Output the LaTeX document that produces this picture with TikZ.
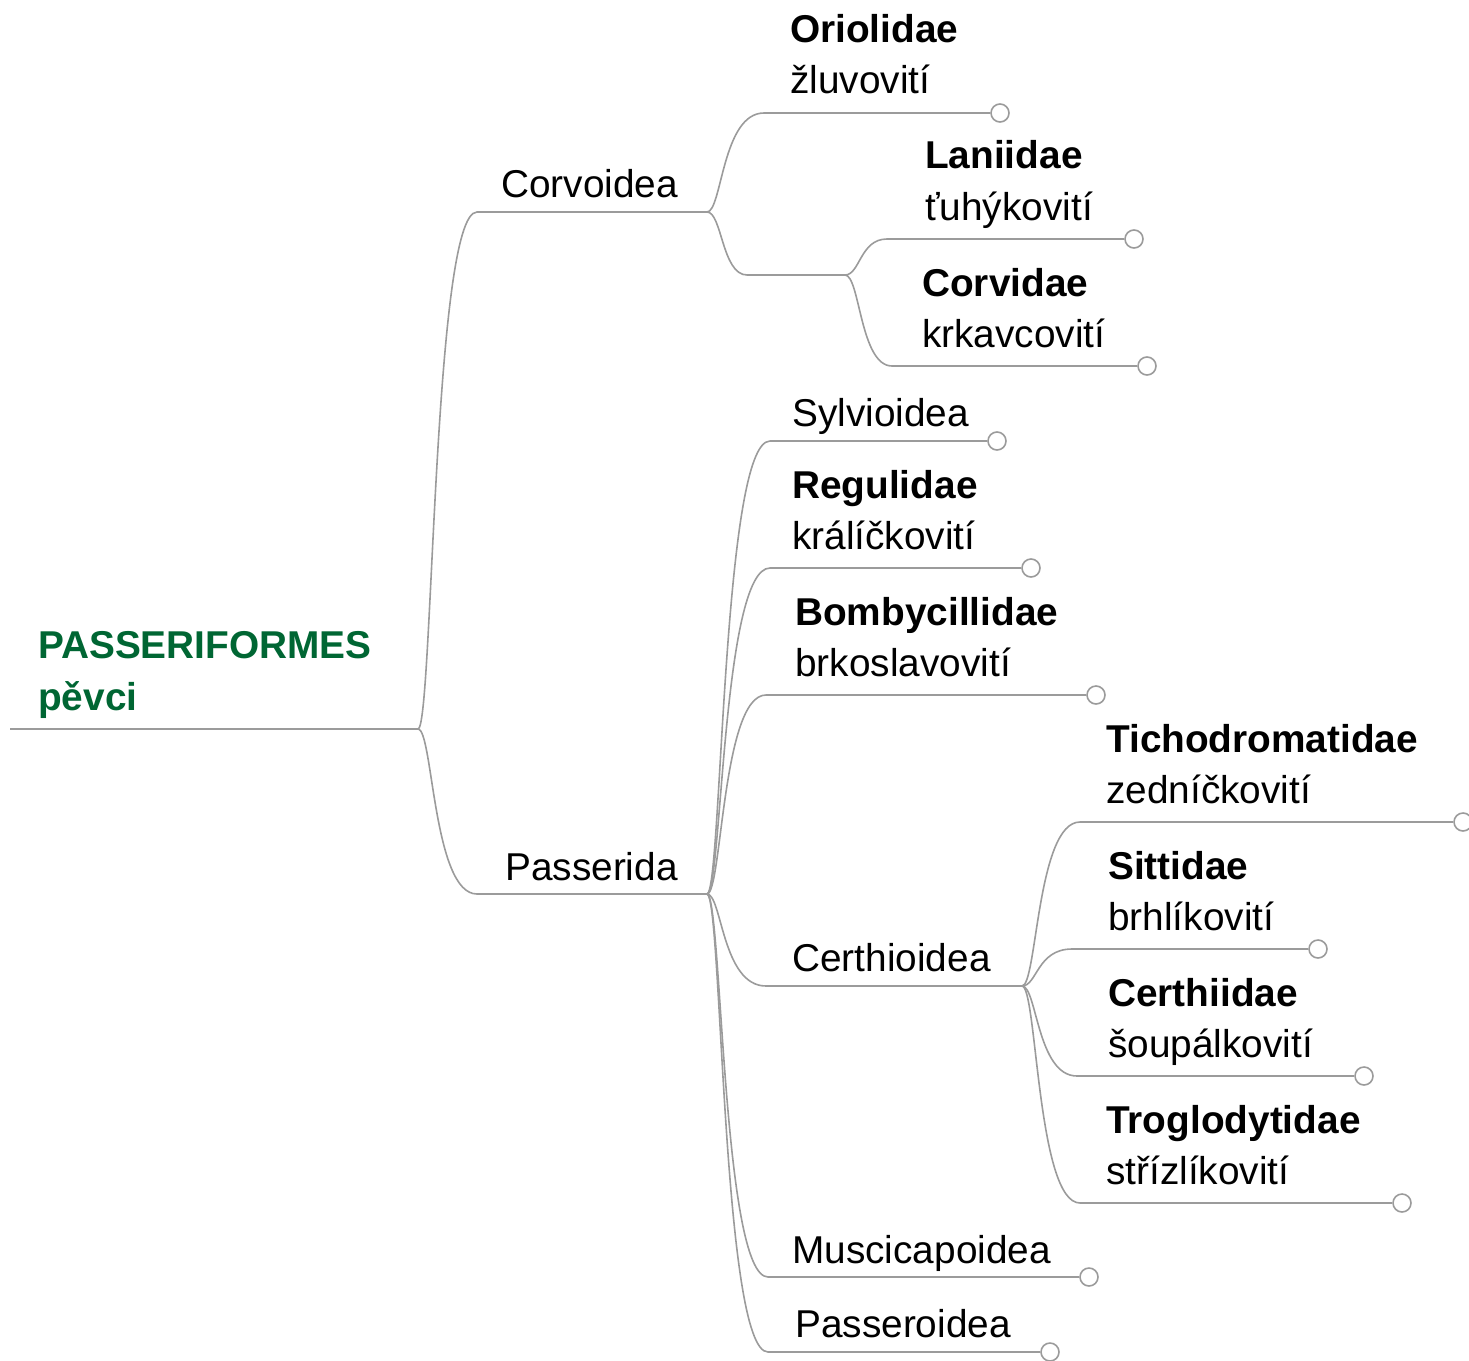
\documentclass[tikz,border=0pt]{standalone}
\usepackage{fontspec}
\setmainfont{Liberation Sans}
\usetikzlibrary{calc}
\definecolor{linegray}{RGB}{155,155,155}
\definecolor{rootgreen}{RGB}{0,102,51}

\tikzset{
	branch/.style={draw=linegray, line width=1.6pt},
	curvy/.style={to path={.. controls +(15,0) and ($(\tikztostart |- \tikztotarget)+(15,0)$) .. (\tikztotarget)}},
	leaf/.style={circle, draw=linegray, fill=white, line width=1.6pt, minimum size=18pt, inner sep=0pt},
	lbl/.style={anchor=base west, inner sep=0pt, font=\fontsize{38.8pt}{52pt}\selectfont},
	famlbl/.style={lbl, font=\fontsize{38.8pt}{52pt}\selectfont\bfseries},
	rootlbl/.style={famlbl, text=rootgreen}
}

\begin{document}
\begin{tikzpicture}[x=1pt,y=-1pt]
				\useasboundingbox (0,0) rectangle (1469,1360);
				
				\node[rootlbl] (passer) at (38,658) {PASSERIFORMES};
				\node[rootlbl] (pevci) at (38,710) {pěvci};
				\coordinate (root-in) at (10,729);
				\coordinate (root) at (418,729);
				\draw[branch] (root-in) -- (root);
				
				\node[lbl] (corv-lbl) at (501,197) {Corvoidea};
				\coordinate (corv-in) at (477,212);
				\coordinate (corv) at (707,212);
				\draw[branch] (root) to[curvy] (corv-in) -- (corv);
				
				\node[lbl] (pass-lbl) at (505,880) {Passerida};
				\coordinate (pass-in) at (477,894);
				\coordinate (pass) at (707,894);
				\draw[branch] (root) to[curvy] (pass-in) -- (pass);
				
				\node[famlbl] (ori) at (790,42) {Oriolidae};
				\node[lbl] (ori-cz) at (790,93) {žluvovití};
				\coordinate (ori-in) at (764,113);
				\node[leaf] (ori-end) at (1000,113) {};
				\draw[branch] (corv) to[curvy] (ori-in) -- (ori-end);
				
				\coordinate (sub-in) at (747,275);
				\coordinate (sub) at (845,275);
				\draw[branch] (corv) to[curvy] (sub-in) -- (sub);
				
				\node[famlbl] (lan) at (925,168) {Laniidae};
				\node[lbl] (lan-cz) at (925,220) {ťuhýkovití};
				\coordinate (lan-in) at (887,239);
				\node[leaf] (lan-end) at (1134,239) {};
				\draw[branch] (sub) to[curvy] (lan-in) -- (lan-end);
				
				\node[famlbl] (cvd) at (922,296) {Corvidae};
				\node[lbl] (cvd-cz) at (922,347) {krkavcovití};
				\coordinate (cvd-in) at (892,366);
				\node[leaf] (cvd-end) at (1147,366) {};
				\draw[branch] (sub) to[curvy] (cvd-in) -- (cvd-end);
				
				\node[lbl] (syl) at (792,426) {Sylvioidea};
				\coordinate (syl-in) at (770,441);
				\node[leaf] (syl-end) at (997,441) {};
				\draw[branch] (pass) to[curvy] (syl-in) -- (syl-end);
				
				\node[famlbl] (reg) at (792,498) {Regulidae};
				\node[lbl] (reg-cz) at (792,549) {králíčkovití};
				\coordinate (reg-in) at (770,568);
				\node[leaf] (reg-end) at (1031,568) {};
				\draw[branch] (pass) to[curvy] (reg-in) -- (reg-end);
				
				\node[famlbl] (bom) at (795,625) {Bombycillidae};
				\node[lbl] (bom-cz) at (795,676) {brkoslavovití};
				\coordinate (bom-in) at (766,695);
				\node[leaf] (bom-end) at (1096,695) {};
				\draw[branch] (pass) to[curvy] (bom-in) -- (bom-end);
				
				\node[lbl] (cer-lbl) at (792,971) {Certhioidea};
				\coordinate (cer-in) at (766,986);
				\coordinate (cer) at (1022,986);
				\draw[branch] (pass) to[curvy] (cer-in) -- (cer);
				
				\node[lbl] (mus) at (792,1263) {Muscicapoidea};
				\coordinate (mus-in) at (768,1277);
				\node[leaf] (mus-end) at (1089,1277) {};
				\draw[branch] (pass) to[curvy] (mus-in) -- (mus-end);
				
				\node[lbl] (psr) at (795,1337) {Passeroidea};
				\coordinate (psr-in) at (768,1352);
				\node[leaf] (psr-end) at (1050,1352) {};
				\draw[branch] (pass) to[curvy] (psr-in) -- (psr-end);
				
				\node[famlbl] (tic) at (1106,752) {Tichodromatidae};
				\node[lbl] (tic-cz) at (1106,803) {zedníčkovití};
				\coordinate (tic-in) at (1080,822);
				\node[leaf] (tic-end) at (1463,822) {};
				\draw[branch] (cer) to[curvy] (tic-in) -- (tic-end);
				
				\node[famlbl] (sit) at (1108,879) {Sittidae};
				\node[lbl] (sit-cz) at (1108,930) {brhlíkovití};
				\coordinate (sit-in) at (1072,949);
				\node[leaf] (sit-end) at (1318,949) {};
				\draw[branch] (cer) to[curvy] (sit-in) -- (sit-end);
				
				\node[famlbl] (cth) at (1108,1006) {Certhiidae};
				\node[lbl] (cth-cz) at (1108,1057) {šoupálkovití};
				\coordinate (cth-in) at (1077,1076);
				\node[leaf] (cth-end) at (1364,1076) {};
				\draw[branch] (cer) to[curvy] (cth-in) -- (cth-end);
				
				\node[famlbl] (tro) at (1106,1133) {Troglodytidae};
				\node[lbl] (tro-cz) at (1106,1184) {střízlíkovití};
				\coordinate (tro-in) at (1080,1203);
				\node[leaf] (tro-end) at (1402,1203) {};
				\draw[branch] (cer) to[curvy] (tro-in) -- (tro-end);
\end{tikzpicture}
\end{document}
